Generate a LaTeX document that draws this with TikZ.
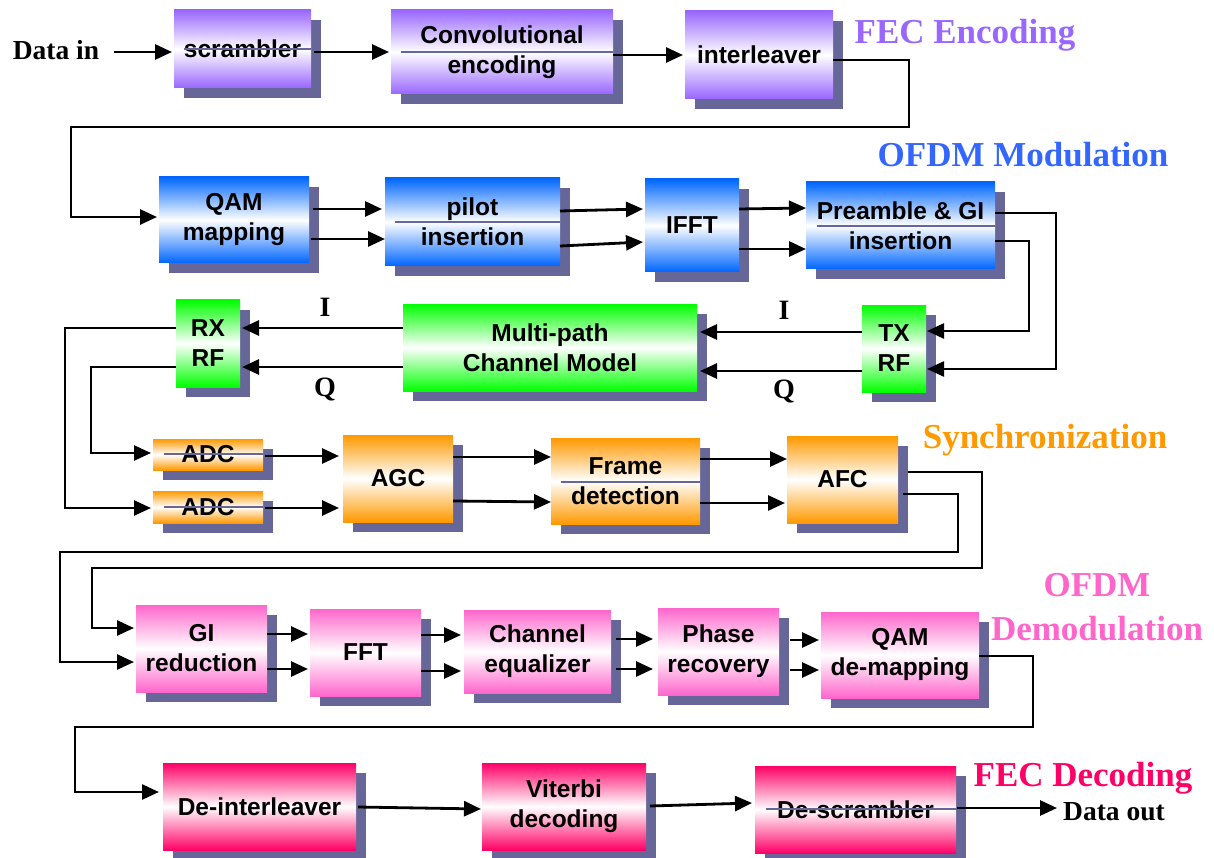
\documentclass[tikz,border=0pt]{standalone}
\usepackage{fontspec}
\setmainfont{Liberation Serif}
\newfontfamily\arialf{Liberation Sans}
\usetikzlibrary{shadows,arrows.meta}
\definecolor{cpur}{HTML}{9966FF}
\definecolor{cblu}{HTML}{0066FF}
\definecolor{lblu}{HTML}{3366FF}
\definecolor{cgrn}{HTML}{00FF00}
\definecolor{corg}{HTML}{FF9900}
\definecolor{cpnk}{HTML}{FF66CC}
\definecolor{ccrm}{HTML}{FF0066}
\definecolor{shadowc}{HTML}{666699}
\begin{document}
\begin{tikzpicture}[x=1pt,y=-1pt,
  blk/.style={inner sep=0pt, outer sep=0pt, align=center,
    font=\arialf\bfseries\fontsize{24.5}{30}\selectfont,
    top color=#1, bottom color=#1, middle color=white,
    drop shadow={shadow xshift=10pt, shadow yshift=-10pt, fill=shadowc, opacity=1}},
  sz/.style 2 args={minimum width=#1pt, minimum height=#2pt},
  arr/.style={-{Triangle[length=17pt,width=15pt]}, line width=2.8pt},
  wire/.style={line width=2.5pt},
  thin/.style={draw=shadowc, line width=1.2pt},
  lab/.style={font=\bfseries\fontsize{35}{44}\selectfont, align=center, inner sep=0pt},
  iq/.style={font=\bfseries\fontsize{28}{30}\selectfont, inner sep=0pt},
  dio/.style={font=\bfseries\fontsize{27.5}{30}\selectfont, inner sep=0pt}]
\path[use as bounding box] (0,0) rectangle (1214,858);

% ---- FEC encoding row
\node[dio] (din) at (56,50) {Data in};
\node[blk=cpur, sz={137}{78}] (scr) at (242.5,49) {scrambler};
\node[blk=cpur, sz={222}{84}] (conv) at (502,52) {Convolutional\\encoding};
\node[blk=cpur, sz={148}{88}] (intl) at (759,55) {interleaver};
\node[lab, text=cpur] (lfec) at (965,35) {FEC Encoding};

% ---- OFDM modulation row
\node[blk=cblu, sz={150}{86}] (qam) at (234,220) {QAM\\mapping};
\node[blk=cblu, sz={175}{88}] (pilot) at (472.5,222) {pilot\\insertion};
\node[blk=cblu, sz={94}{93}] (ifft) at (692,225.5) {IFFT};
\node[blk=cblu, sz={189}{87}] (pre) at (900.5,225.5) {Preamble \& GI\\insertion};
\node[lab, text=lblu] (lmod) at (1023,155) {OFDM Modulation};

% ---- RF / channel row
\node[blk=cgrn, sz={64}{87}] (tx) at (894,348.5) {TX\\RF};
\node[blk=cgrn, sz={294}{87}] (mp) at (550,347.5) {Multi-path\\Channel Model};
\node[blk=cgrn, sz={64}{87}] (rx) at (208,343.5) {RX\\RF};
\node[iq] (i1) at (325,307) {I};
\node[iq] (q1) at (325,389) {Q};
\node[iq] (i2) at (784,310) {I};
\node[iq] (q2) at (784,391) {Q};

% ---- synchronization row
\node[blk=corg, sz={110}{31}] (adc1) at (208,454.5) {ADC};
\node[blk=corg, sz={110}{32}] (adc2) at (208,507) {ADC};
\node[blk=corg, sz={110}{87}] (agc) at (398,478.5) {AGC};
\node[blk=corg, sz={149}{86}] (frm) at (625.5,481) {Frame\\detection};
\node[blk=corg, sz={111}{87}] (afc) at (842.5,479.5) {AFC};
\node[lab, text=corg] (lsyn) at (1045,440) {Synchronization};

% ---- OFDM demodulation row
\node[blk=cpnk, sz={131}{87}] (gi) at (201.5,648.5) {GI\\reduction};
\node[blk=cpnk, sz={111}{87}] (fft) at (365.5,652.5) {FFT};
\node[blk=cpnk, sz={147}{83}] (cheq) at (537.5,651.5) {Channel\\equalizer};
\node[blk=cpnk, sz={121}{87}] (phs) at (718.5,651.5) {Phase\\recovery};
\node[blk=cpnk, sz={158}{86}] (qamd) at (900,655) {QAM\\de-mapping};
\node[lab, text=cpnk] (ldem) at (1097,607) {OFDM\\Demodulation};

% ---- FEC decoding row
\node[blk=ccrm, sz={193}{87}] (deint) at (259.5,806.5) {De-interleaver};
\node[blk=ccrm, sz={164}{87}] (vit) at (564,806.5) {Viterbi\\decoding};
\node[blk=ccrm, sz={201}{87}] (desc) at (855.5,809.5) {De-scrambler};
\node[dio] (dout) at (1114,812) {Data out};
\node[lab, text=ccrm] (ldec) at (1083,778) {FEC Decoding};

% ---- thin lines through boxes
\draw[thin] ([xshift=10pt]scr.west|-0,49) -- (scr.east|-0,49);
\draw[thin] ([xshift=10pt]conv.west|-0,52) -- (conv.east|-0,52);
\draw[thin] ([xshift=10pt]pilot.west|-0,222) -- (pilot.east|-0,222);
\draw[thin] ([xshift=11pt]pre.west|-0,226) -- (pre.east|-0,226);
\draw[thin] ([xshift=11pt]adc1.west|-0,454) -- (adc1.east|-0,454);
\draw[thin] ([xshift=11pt]adc2.west|-0,507) -- (adc2.east|-0,507);
\draw[thin] ([xshift=10pt]frm.west|-0,482) -- (frm.east|-0,482);
\draw[thin] ([xshift=11pt]desc.west|-0,809) -- ([xshift=4pt]desc.east|-0,809);

% ---- connectors
\draw[arr] ([xshift=15pt]din.east|-0,52) -- ([xshift=-2pt]scr.west|-0,52);
\draw[arr] ([xshift=3pt]scr.east|-0,52) -- ([xshift=-2pt]conv.west|-0,52);
\draw[arr] (conv.east|-0,55) -- ([xshift=-2pt]intl.west|-0,55);
\draw[arr] (intl.east|-0,60) -- (909,60) -- (909,127) -- (71,127) -- (71,217) -- ([xshift=-2pt]qam.west|-0,217);

\draw[arr] ([xshift=4pt]qam.east|-0,209) -- ([xshift=-3pt]pilot.west|-0,209);
\draw[arr] ([xshift=2pt]qam.east|-0,239) -- (pilot.west|-0,239);
\draw[arr] (pilot.east|-0,211) -- ([xshift=-2pt]ifft.west|-0,209);
\draw[arr] (pilot.east|-0,246) -- ([xshift=-2pt]ifft.west|-0,242);
\draw[arr] (ifft.east|-0,209) -- (pre.west|-0,208);
\draw[arr] (ifft.east|-0,249) -- (pre.west|-0,249);
\draw[wire,-{Triangle[length=17pt,width=15pt]}] (pre.east|-0,213) -- (1056,213) -- (1056,369) -- ([xshift=1pt]tx.east|-0,369);
\draw[wire,-{Triangle[length=17pt,width=15pt]}] (pre.east|-0,241) -- (1029,241) -- (1029,331) -- ([xshift=1pt]tx.east|-0,331);

\draw[arr] (tx.west|-0,332) -- ([xshift=3pt]mp.east|-0,332);
\draw[arr] (tx.west|-0,371) -- ([xshift=3pt]mp.east|-0,371);
\draw[arr] (mp.west|-0,328) -- ([xshift=2pt]rx.east|-0,328);
\draw[arr] (mp.west|-0,367) -- ([xshift=2pt]rx.east|-0,367);
\draw[wire,-{Triangle[length=17pt,width=15pt]}] (rx.west|-0,328) -- (65,328) -- (65,508) -- ([xshift=-2pt]adc2.west|-0,508);
\draw[wire,-{Triangle[length=17pt,width=15pt]}] (rx.west|-0,367) -- (91,367) -- (91,453) -- ([xshift=-2pt]adc1.west|-0,453);

\draw[arr] ([xshift=2pt]adc1.east|-0,456) -- ([xshift=-4pt]agc.west|-0,456);
\draw[arr] ([xshift=2pt]adc2.east|-0,508) -- ([xshift=-4pt]agc.west|-0,508);
\draw[arr] (agc.east|-0,457) -- (frm.west|-0,457);
\draw[arr] (agc.east|-0,501) -- (frm.west|-0,502);
\draw[arr] (frm.east|-0,459) -- (afc.west|-0,459);
\draw[arr] (frm.east|-0,503) -- ([xshift=-2pt]afc.west|-0,503);
\draw[wire,-{Triangle[length=17pt,width=15pt]}] ([xshift=10pt]afc.east|-0,472) -- (982,472) -- (982,568) -- (92,568) -- (92,628) -- ([xshift=-2pt]gi.west|-0,628);
\draw[wire,-{Triangle[length=17pt,width=15pt]}] ([xshift=5pt]afc.east|-0,494) -- (958,494) -- (958,552) -- (60,552) -- (60,662) -- ([xshift=-2pt]gi.west|-0,662);

\draw[arr] (gi.east|-0,634) -- ([xshift=-2pt]fft.west|-0,634);
\draw[arr] (gi.east|-0,669) -- ([xshift=-2pt]fft.west|-0,669);
\draw[arr] (fft.east|-0,635) -- ([xshift=-3pt]cheq.west|-0,635);
\draw[arr] (fft.east|-0,671) -- ([xshift=-3pt]cheq.west|-0,671);
\draw[arr] ([xshift=5pt]cheq.east|-0,639) -- ([xshift=-5pt]phs.west|-0,639);
\draw[arr] ([xshift=5pt]cheq.east|-0,669) -- ([xshift=-5pt]phs.west|-0,669);
\draw[arr] ([xshift=11pt]phs.east|-0,640) -- ([xshift=-2pt]qamd.west|-0,640);
\draw[arr] ([xshift=11pt]phs.east|-0,670) -- ([xshift=-2pt]qamd.west|-0,670);
\draw[wire,-{Triangle[length=17pt,width=15pt]}] (qamd.east|-0,656) -- (1033,656) -- (1033,727) -- (75,727) -- (75,792) -- ([xshift=-4pt]deint.west|-0,792);

\draw[arr] ([xshift=2pt]deint.east|-0,807) -- ([xshift=-1pt]vit.west|-0,809);
\draw[arr] ([xshift=4pt]vit.east|-0,806) -- ([xshift=-3pt]desc.west|-0,803);
\draw[arr] ([xshift=1pt]desc.east|-0,808) -- ([xshift=-6pt]dout.west|-0,808);
\end{tikzpicture}
\end{document}
